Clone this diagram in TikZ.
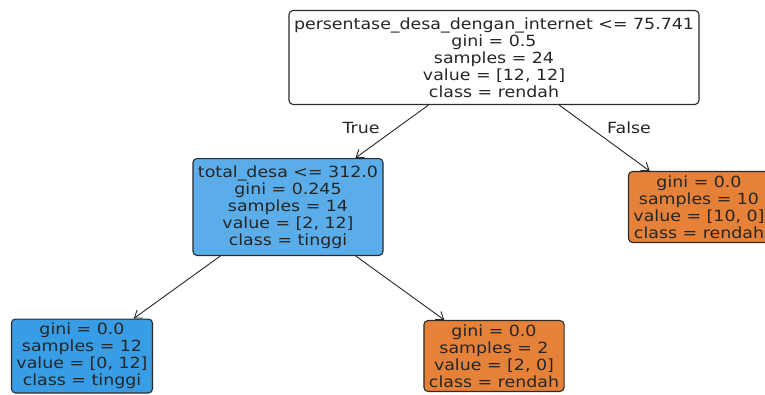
\documentclass[tikz,border=0pt]{standalone}
\usepackage{fontspec}
\setmainfont[FakeStretch=1.13]{DejaVu Sans}
\usetikzlibrary{arrows.meta}
\definecolor{leafblue}{HTML}{399DE5}
\definecolor{midblue}{HTML}{5AADE9}
\definecolor{leaforange}{HTML}{E58139}
\definecolor{edgegray}{HTML}{2B2B2B}
\tikzset{
  x=1pt, y=-1pt,
  treenode/.style={draw=edgegray, line width=1.1pt, rounded corners=4pt,
    align=center, inner xsep=5pt, inner ysep=7pt,
    font=\fontsize{15.4}{17}\selectfont, text=black!85},
  leafnode/.style={treenode, inner ysep=4pt},
  branch/.style={draw=black!85, line width=0.9pt,
    -{Straight Barb[length=7pt,width=10pt,line width=0.9pt]}},
  branchlabel/.style={font=\fontsize{15.4}{17}\selectfont, text=black!85},
}
\begin{document}
\begin{tikzpicture}
  \useasboundingbox (0,0) rectangle (765,394);
  \clip (0,0) rectangle (765,394);
  \node[treenode, fill=white] (root) at (494,57.5)
    {persentase\_desa\_dengan\_internet <= 75.741\\gini = 0.5\\samples = 24\\value = [12, 12]\\class = rendah};
  \node[treenode, fill=midblue] (split) at (288,207)
    {total\_desa <= 312.0\\gini = 0.245\\samples = 14\\value = [2, 12]\\class = tinggi};
  \node[leafnode, fill=leaforange] (rleaf) at (699,207)
    {gini = 0.0\\samples = 10\\value = [10, 0]\\class = rendah};
  \node[leafnode, fill=leafblue] (lleaf) at (82,356)
    {gini = 0.0\\samples = 12\\value = [0, 12]\\class = tinggi};
  \node[leafnode, fill=leaforange] (mleaf) at (494,356)
    {gini = 0.0\\samples = 2\\value = [2, 0]\\class = rendah};
  \draw[branch] (root) -- (split);
  \draw[branch] (root) -- (rleaf);
  \draw[branch] (split) -- (lleaf);
  \draw[branch] (split) -- (mleaf);
  \node[branchlabel] (truelbl) at (361,128) {True};
  \node[branchlabel] (falselbl) at (629,128) {False};
\end{tikzpicture}
\end{document}
